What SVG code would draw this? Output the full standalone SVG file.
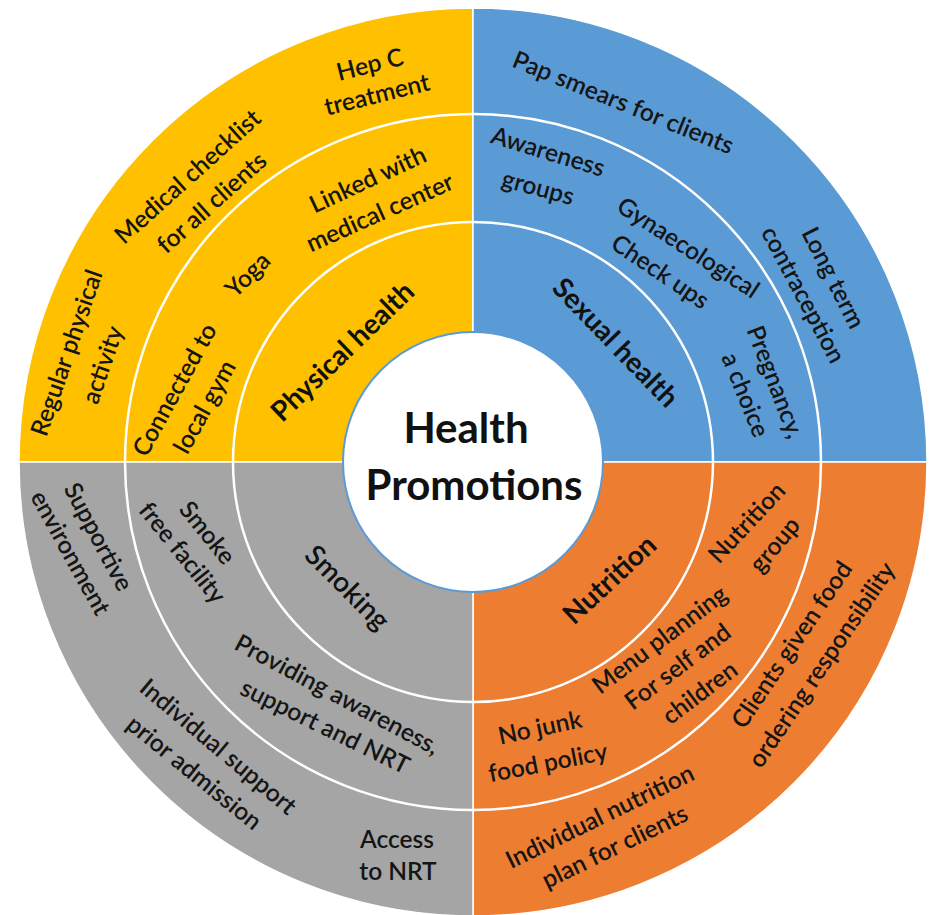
<svg xmlns="http://www.w3.org/2000/svg" width="934" height="915" viewBox="0 0 934 915">
<style>
.it{font-family:Lato,"Open Sans","Liberation Sans",sans-serif;font-size:24.5px;font-weight:600;fill:#151515;text-anchor:middle}
.cat{font-family:Lato,"Open Sans","Liberation Sans",sans-serif;font-size:28px;font-weight:bold;fill:#111;text-anchor:middle}
.ctr{font-family:Lato,"Open Sans","Liberation Sans",sans-serif;font-size:42px;font-weight:bold;fill:#111;text-anchor:middle}
.wedge{stroke:#fff;stroke-width:1.5}
.ring{fill:none;stroke:#fff;stroke-width:2.5}
</style>
<g id="quadrants">
<path class="wedge" fill="#FFC000" d="M473,462 L19,462 A454,454 0 0 1 473,8 Z"/>
<path class="wedge" fill="#5B9BD5" d="M473,462 L473,8 A454,454 0 0 1 927,462 Z"/>
<path class="wedge" fill="#ED7D31" d="M473,462 L927,462 A454,454 0 0 1 473,916 Z"/>
<path class="wedge" fill="#A5A5A5" d="M473,462 L473,916 A454,454 0 0 1 19,462 Z"/>
<circle class="ring" cx="473" cy="462" r="348"/>
<circle class="ring" cx="473" cy="462" r="240"/>
</g>
<g id="center">
<circle cx="473" cy="462" r="130" fill="#fff" stroke="#5B9BD5" stroke-width="2"/>
<text class="ctr" x="466" y="443">Health</text>
<text class="ctr" x="474" y="500">Promotions</text>
</g>
<g id="physical-health">
<text class="cat" transform="translate(343,352) rotate(-44)" y="9">Physical health</text>
</g>
<g id="hep-c"><text class="it" transform="translate(370,65) rotate(-14)" y="8">Hep C</text><text class="it" transform="translate(377,95) rotate(-14)" y="8">treatment</text></g>
<g id="medical-checklist"><text class="it" transform="translate(188,177) rotate(-42)" y="8">Medical checklist</text><text class="it" transform="translate(212,203) rotate(-42)" y="8">for all clients</text></g>
<g id="regular-activity"><text class="it" transform="translate(67,353) rotate(-71)" y="8">Regular physical</text><text class="it" transform="translate(103,365) rotate(-71)" y="8">activity</text></g>
<g id="linked-medical"><text class="it" transform="translate(368,180) rotate(-25)" y="8">Linked with</text><text class="it" transform="translate(380,213) rotate(-24)" y="8">medical center</text></g>
<g id="yoga"><text class="it" transform="translate(248,275) rotate(-45)" y="8">Yoga</text></g>
<g id="local-gym"><text class="it" transform="translate(175,390) rotate(-61)" y="8">Connected to</text><text class="it" transform="translate(205,407) rotate(-61)" y="8">local gym</text></g>
<g id="sexual-health">
<text class="cat" transform="translate(615,343) rotate(46)" y="9">Sexual health</text>
</g>
<g id="pap-smears"><text class="it" transform="translate(623,103) rotate(22)" y="8">Pap smears for clients</text></g>
<g id="awareness-groups"><text class="it" transform="translate(548,152) rotate(17)" y="8">Awareness</text><text class="it" transform="translate(538,188) rotate(15)" y="8">groups</text></g>
<g id="gynaecological"><text class="it" transform="translate(688,248) rotate(33)" y="8">Gynaecological</text><text class="it" transform="translate(660,272) rotate(34)" y="8">Check ups</text></g>
<g id="contraception"><text class="it" transform="translate(833,278) rotate(63)" y="8">Long term</text><text class="it" transform="translate(803,295) rotate(62)" y="8">contraception</text></g>
<g id="pregnancy"><text class="it" transform="translate(775,382) rotate(69)" y="8">Pregnancy,</text><text class="it" transform="translate(745,395) rotate(68)" y="8">a choice</text></g>
<g id="smoking">
<text class="cat" style="font-weight:600" transform="translate(347,588) rotate(45)" y="9">Smoking</text>
</g>
<g id="supportive-env"><text class="it" transform="translate(98,537) rotate(62)" y="8">Supportive</text><text class="it" transform="translate(70,553) rotate(61)" y="8">environment</text></g>
<g id="smoke-free"><text class="it" transform="translate(207,533) rotate(51)" y="8">Smoke</text><text class="it" transform="translate(182,553) rotate(51)" y="8">free facility</text></g>
<g id="providing-awareness"><text class="it" transform="translate(337,695) rotate(28)" y="8">Providing awareness,</text><text class="it" transform="translate(325,727) rotate(26)" y="8">support and NRT</text></g>
<g id="individual-support"><text class="it" transform="translate(218,747) rotate(40)" y="8">Individual support</text><text class="it" transform="translate(194,773) rotate(39)" y="8">prior admission</text></g>
<g id="access-nrt"><text class="it" x="397" y="848">Access</text><text class="it" x="398" y="880">to NRT</text></g>
<g id="nutrition">
<text class="cat" transform="translate(610,580) rotate(-43)" y="9">Nutrition</text>
</g>
<g id="nutrition-group"><text class="it" transform="translate(747,523) rotate(-47)" y="8">Nutrition</text><text class="it" transform="translate(775,545) rotate(-50)" y="8">group</text></g>
<g id="menu-planning"><text class="it" transform="translate(660,640) rotate(-37)" y="8">Menu planning</text><text class="it" transform="translate(678,667) rotate(-37)" y="8">For self and</text><text class="it" transform="translate(700,693) rotate(-37)" y="8">children</text></g>
<g id="no-junk"><text class="it" transform="translate(540,728) rotate(-12)" y="8">No junk</text><text class="it" transform="translate(548,763) rotate(-11)" y="8">food policy</text></g>
<g id="food-ordering"><text class="it" transform="translate(792,645) rotate(-56)" y="8">Clients given food</text><text class="it" transform="translate(822,665) rotate(-56)" y="8">ordering responsibility</text></g>
<g id="nutrition-plan"><text class="it" transform="translate(600,817) rotate(-26)" y="8">Individual nutrition</text><text class="it" transform="translate(615,847) rotate(-26)" y="8">plan for clients</text></g>
<g id="connectors"/>
</svg>
